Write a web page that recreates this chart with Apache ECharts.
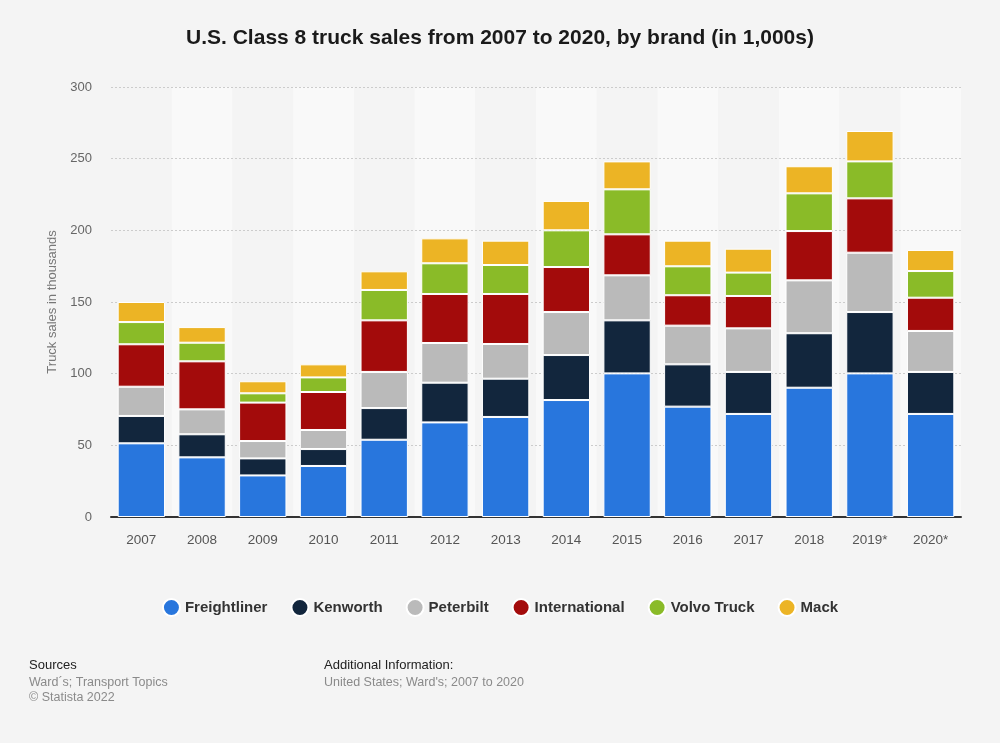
<!DOCTYPE html>
<html><head><meta charset="utf-8">
<script src="https://cdn.jsdelivr.net/npm/echarts@6/dist/echarts.min.js"></script>
<style>html,body{margin:0;padding:0;background:#f4f4f4;}#c{width:1000px;height:743px;}</style>
</head><body><div id="c"></div>
<script>
const years = ['2007','2008','2009','2010','2011','2012','2013','2014','2015','2016','2017','2018','2019*','2020*'];
const freightliner = [51.4, 41.6, 29.0, 35.6, 53.9, 66.0, 69.8, 81.6, 100.2, 77.0, 71.9, 90.2, 100.2, 71.9];
const kenworth     = [19.1, 16.1, 11.9, 11.8, 22.1, 27.7, 26.7, 31.4, 37.0, 29.5, 29.3, 38.0, 42.8, 29.3];
const peterbilt    = [20.4, 17.4, 12.1, 13.3, 25.2, 27.7, 24.2, 30.0, 31.4, 27.0, 30.4, 36.9, 41.4, 28.6];
const international= [29.6, 33.5, 26.8, 26.5, 36.0, 34.2, 34.9, 31.4, 28.6, 21.2, 22.6, 34.4, 37.9, 23.2];
const volvo        = [15.5, 13.0, 6.5, 10.2, 21.2, 21.4, 20.2, 25.6, 31.4, 20.2, 16.3, 26.3, 25.8, 18.6];
const mack         = [14.0, 10.9, 8.4, 9.1, 13.0, 17.4, 17.0, 20.5, 19.5, 17.9, 16.7, 18.9, 21.2, 14.7];
const seriesNames = ['Freightliner','Kenworth','Peterbilt','International','Volvo Truck','Mack'];
const seriesData = [freightliner, kenworth, peterbilt, international, volvo, mack];
const colors = ['#2876dd','#12263d','#bababa','#a30b0b','#8abb28','#ecb425'];
const yTicks = [0, 50, 100, 150, 200, 250, 300];

const FONT = 'Liberation Sans, Arial, sans-serif';
const chart = echarts.init(document.getElementById('c'), null, {renderer:'canvas'});
chart.setOption({
  backgroundColor: '#f4f4f4',
  animation: false,
  color: colors,
  textStyle: {fontFamily: FONT},
  title: {
    text: 'U.S. Class 8 truck sales from 2007 to 2020, by brand (in 1,000s)',
    left: 'center', top: 23,
    textStyle: {fontFamily: FONT, fontSize: 21, fontWeight: 'bold', color: '#1a1a1a'}
  },
  legend: {
    data: seriesNames,
    top: 593, left: 'center',
    icon: 'circle', itemWidth: 17, itemHeight: 17, itemGap: 23,
    textStyle: {fontFamily: FONT, fontSize: 15, fontWeight: 'bold', color: '#333'}
  },
  grid: {left: 111, right: 39, top: 87, bottom: 226, containLabel: false},
  xAxis: {
    type: 'category', data: years, z: 0,
    axisLine: {lineStyle: {color: '#333', width: 2}},
    axisTick: {show: false},
    axisLabel: {fontFamily: FONT, fontSize: 13.5, color: '#555', margin: 16},
    splitArea: {show: true, areaStyle: {color: ['#f4f4f4', '#f9f9f9']}}
  },
  yAxis: {
    type: 'value', min: 0, max: 300, interval: 50, z: 1,
    name: 'Truck sales in thousands', nameLocation: 'middle', nameGap: 51,
    nameTextStyle: {fontFamily: FONT, fontSize: 13, color: '#777'},
    axisLine: {show: false}, axisTick: {show: false},
    axisLabel: {fontFamily: FONT, fontSize: 13, color: '#666', margin: 19,
      formatter: v => yTicks.includes(v) ? String(v) : ''},
    splitLine: {showMinLine: false, lineStyle: {color: '#cccccc', type: [2, 2], width: 1}}
  },
  series: seriesNames.map((n, i) => ({
    name: n, type: 'bar', stack: 'total', barWidth: '78%', z: 3,
    data: seriesData[i],
    itemStyle: {color: colors[i], borderColor: '#ffffff', borderWidth: 1}
  })),
  graphic: [
    {type: 'text', left: 29, top: 659, style: {text: 'Sources', fontFamily: FONT, fontSize: 13, fill: '#222'}},
    {type: 'text', left: 29, top: 676, style: {text: 'Ward´s; Transport Topics', fontFamily: FONT, fontSize: 12.5, fill: '#8a8a8a'}},
    {type: 'text', left: 29, top: 691, style: {text: '© Statista 2022', fontFamily: FONT, fontSize: 12.5, fill: '#8a8a8a'}},
    {type: 'text', left: 324, top: 659, style: {text: 'Additional Information:', fontFamily: FONT, fontSize: 13, fill: '#222'}},
    {type: 'text', left: 324, top: 676, style: {text: "United States; Ward's; 2007 to 2020", fontFamily: FONT, fontSize: 12.5, fill: '#8a8a8a'}}
  ]
});
</script></body></html>
